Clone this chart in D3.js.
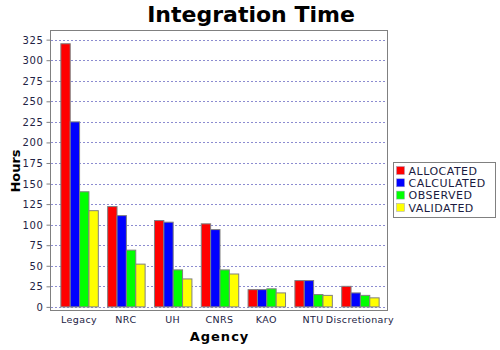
<!DOCTYPE html>
<html>
<head>
<meta charset="utf-8">
<script src="https://cdn.jsdelivr.net/npm/d3@7"></script>
<style>
  body { margin: 0; background: #fff; }
  text { font-family: "DejaVu Sans", sans-serif; }
</style>
</head>
<body>
<div id="container"></div>
<script>
var agencies = ["Legacy", "NRC", "UH", "CNRS", "KAO", "NTU", "Discretionary"];
var seriesNames = ["ALLOCATED", "CALCULATED", "OBSERVED", "VALIDATED"];
var seriesColors = ["#ff0000", "#0000ff", "#00ff00", "#ffff00"];
var allocated = [320, 122, 105, 101, 21, 32, 25];
var calculated = [225, 111, 103, 94, 21, 32, 17];
var observed = [140, 69, 45, 45, 22, 15, 14];
var validated = [117, 52, 34, 40, 17, 14, 11];
var yTicks = d3.range(0, 326, 25);

var values = [allocated, calculated, observed, validated];

var svg = d3.select("#container")
  .append("svg")
  .attr("width", 500)
  .attr("height", 350);

var plotL = 51, plotR = 388, plotT = 31, plotB = 311;

var x = d3.scaleBand()
  .domain(agencies)
  .range([plotL, plotR])
  .paddingInner(0.2)
  .paddingOuter(0.2);

var x1 = d3.scaleBand()
  .domain(seriesNames)
  .range([0, x.bandwidth()]);

var y = d3.scaleLinear()
  .domain([-5, 335.5])
  .range([plotB, plotT]);

// title
svg.append("text")
  .attr("x", 251)
  .attr("y", 22)
  .attr("text-anchor", "middle")
  .style("font-size", "22px")
  .style("font-weight", "bold")
  .text("Integration Time");

// plot background
svg.append("rect")
  .attr("x", plotL)
  .attr("y", plotT)
  .attr("width", plotR - plotL)
  .attr("height", plotB - plotT)
  .attr("fill", "#fff");

// gridlines
svg.append("g")
  .selectAll("line")
  .data(yTicks)
  .enter().append("line")
    .attr("x1", plotL)
    .attr("x2", plotR)
    .attr("y1", function(d) { return Math.round(y(d)) + 0.5; })
    .attr("y2", function(d) { return Math.round(y(d)) + 0.5; })
    .attr("stroke", "#8c8cd0")
    .attr("stroke-dasharray", "2,2");

// bars
var groups = svg.append("g")
  .selectAll(".grp")
  .data(agencies)
  .enter().append("g")
    .attr("transform", function(d) { return "translate(" + x(d) + ",0)"; });

groups.selectAll("rect")
  .data(function(d, i) {
    return seriesNames.map(function(s, j) { return { s: s, j: j, v: values[j][i] }; });
  })
  .enter().append("rect")
    .attr("x", function(d) { return x1(d.s) + 0.5; })
    .attr("y", function(d) { return y(d.v); })
    .attr("width", x1.bandwidth())
    .attr("height", function(d) { return y(0) - y(d.v); })
    .attr("fill", function(d) { return seriesColors[d.j]; })
    .attr("stroke", "#808080")
    .attr("stroke-width", 1);

// plot border
svg.append("rect")
  .attr("x", plotL - 0.5)
  .attr("y", plotT - 0.5)
  .attr("width", plotR - plotL)
  .attr("height", plotB - plotT)
  .attr("fill", "none")
  .attr("stroke", "#808080");

// y axis
var yAxis = svg.append("g")
  .attr("transform", "translate(" + (plotL - 0.5) + ",0)")
  .call(d3.axisLeft(y).tickValues(yTicks).tickSize(4).tickPadding(3));
yAxis.select(".domain").remove();
yAxis.selectAll("line").attr("stroke", "#808080");
yAxis.selectAll("text")
  .style("font-size", "10px")
  .style("letter-spacing", "0.6px")
  .attr("fill", "#222244")
  .attr("dy", "0.35em");

// x axis
var xAxis = svg.append("g")
  .attr("transform", "translate(0," + (plotB - 0.5) + ")")
  .call(d3.axisBottom(x).tickSize(0).tickPadding(6));
xAxis.select(".domain").remove();
xAxis.selectAll("text")
  .style("font-size", "9.5px")
  .style("letter-spacing", "0.4px")
  .attr("fill", "#222244");

// axis labels
svg.append("text")
  .attr("transform", "translate(20," + ((plotT + plotB) / 2) + ") rotate(-90)")
  .attr("text-anchor", "middle")
  .style("font-size", "13px")
  .style("font-weight", "bold")
  .text("Hours");

svg.append("text")
  .attr("x", (plotL + plotR) / 2)
  .attr("y", 341)
  .attr("text-anchor", "middle")
  .style("font-size", "13px")
  .style("font-weight", "bold")
  .style("letter-spacing", "1px")
  .text("Agency");

// legend
var legend = svg.append("g").attr("transform", "translate(393.5,162.5)");
legend.append("rect")
  .attr("width", 102)
  .attr("height", 55)
  .attr("fill", "#fff")
  .attr("stroke", "#808080");

var legendItem = legend.selectAll(".legendItem")
  .data(seriesNames)
  .enter().append("g")
    .attr("transform", function(d, i) { return "translate(3," + (4 + i * 12.3) + ")"; });

legendItem.append("rect")
  .attr("width", 8)
  .attr("height", 8)
  .attr("fill", function(d, i) { return seriesColors[i]; })
  .attr("stroke", "#a0a0c0")
  .attr("stroke-width", 0.5);

legendItem.append("text")
  .attr("x", 12)
  .attr("y", 4)
  .attr("dy", "0.38em")
  .style("font-size", "11px")
  .style("letter-spacing", "0.5px")
  .attr("fill", "#1a1a40")
  .text(function(d) { return d; });
</script>
</body>
</html>
